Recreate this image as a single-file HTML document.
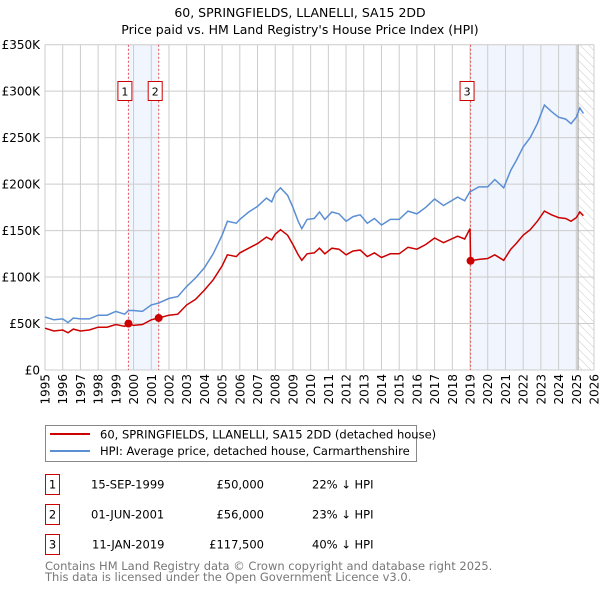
<!DOCTYPE html>
<html><head><meta charset="utf-8"><style>
body{margin:0;background:#fff;width:600px;height:590px;overflow:hidden;font-family:"DejaVu Sans","Liberation Sans",sans-serif}
svg text{font-family:"DejaVu Sans","Liberation Sans",sans-serif}
</style></head><body>
<svg id="c" width="600" height="590" xmlns="http://www.w3.org/2000/svg">
<defs><pattern id="hatch" width="6" height="6" patternUnits="userSpaceOnUse" patternTransform="rotate(-45)"><line x1="0" y1="0" x2="0" y2="6" stroke="#ccc" stroke-width="1"/></pattern></defs>
<text x="300" y="17" text-anchor="middle" font-size="12.5">60, SPRINGFIELDS, LLANELLI, SA15 2DD</text>
<text x="300" y="34" text-anchor="middle" font-size="12.5">Price paid vs. HM Land Registry's House Price Index (HPI)</text>
<g id="plot"></g>
<g>
<rect x="45.5" y="425.5" width="371" height="36" fill="#fff" stroke="#888"/>
<line x1="50" y1="434" x2="90" y2="434" stroke="#cc0000" stroke-width="2"/>
<text x="100" y="438.5" font-size="11.5">60, SPRINGFIELDS, LLANELLI, SA15 2DD (detached house)</text>
<line x1="50" y1="451" x2="90" y2="451" stroke="#5b8fd4" stroke-width="2"/>
<text x="100" y="455" font-size="11.5">HPI: Average price, detached house, Carmarthenshire</text>
</g>
<g id="table" font-size="11.5"></g>
<text x="45" y="570" font-size="11.5" fill="#777">Contains HM Land Registry data © Crown copyright and database right 2025.</text>
<text x="45" y="581" font-size="11.5" fill="#777">This data is licensed under the Open Government Licence v3.0.</text>
</svg>
<script>
const yTicks=[0,50,100,150,200,250,300,350];
const yTickLabels=["£0","£50K","£100K","£150K","£200K","£250K","£300K","£350K"];
const xYears=[1995,1996,1997,1998,1999,2000,2001,2002,2003,2004,2005,2006,2007,2008,2009,2010,2011,2012,2013,2014,2015,2016,2017,2018,2019,2020,2021,2022,2023,2024,2025,2026];
const dates=[1995.0,1995.5,1996.0,1996.3,1996.6,1997.0,1997.5,1998.0,1998.5,1999.0,1999.5,1999.71,2000.0,2000.5,2001.0,2001.42,2002.0,2002.5,2003.0,2003.5,2004.0,2004.5,2005.0,2005.3,2005.8,2006.0,2006.5,2007.0,2007.5,2007.8,2008.0,2008.3,2008.7,2009.0,2009.3,2009.5,2009.8,2010.2,2010.5,2010.8,2011.2,2011.6,2012.0,2012.4,2012.8,2013.2,2013.6,2014.0,2014.5,2015.0,2015.5,2016.0,2016.5,2017.0,2017.5,2018.3,2018.7,2019.0,2019.03,2019.5,2020.0,2020.4,2020.9,2021.3,2021.6,2022.0,2022.4,2022.8,2023.2,2023.6,2024.0,2024.4,2024.7,2025.0,2025.2,2025.4];
const hpi=[57,54,55,51,56,55,55,59,59,63,60,64,64,63,70,72,77,79,90,99,110,125,145,160,158,162,170,176,185,181,190,196,188,175,160,152,162,163,170,162,170,168,160,165,167,158,163,156,162,162,171,168,175,184,177,186,182,192,192,197,197,205,196,215,225,240,250,265,285,278,272,270,265,272,282,276];
const paid=[45,42,43,40,44,42,43,46,46,49,47,50,48,49,54,56,59,60,70,76,86,97,112,124,122,126,131,136,143,140,146,151,145,135,124,118,125,126,131,125,131,130,124,128,129,122,126,121,125,125,132,130,135,142,137,144,141,152,117.5,119,120,124,118,130,136,145,151,160,171,167,164,163,160,164,170,166];
const saleLabels=["1","2","3"];
const saleDates=[1999.71,2001.42,2019.03];
const salePrices=[50,56,117.5];
const saleDateText=["15-SEP-1999","01-JUN-2001","11-JAN-2019"];
const salePriceText=["£50,000","£56,000","£117,500"];
const salePctText=["22% ↓ HPI","23% ↓ HPI","40% ↓ HPI"];
const dataEnd=2025.1;

const NS="http://www.w3.org/2000/svg";
const X0=45,X1=594,Y0=370,Y1=44.7;
const xs=y=>X0+(y-1995)/(2026-1995)*(X1-X0);
const ys=v=>Y0-v/350*(Y0-Y1);
function mk(tag,at,parent){const e=document.createElementNS(NS,tag);for(const k in at)e.setAttribute(k,at[k]);parent.appendChild(e);return e;}
const P=document.getElementById('plot');
let s=mk('rect',{x:xs(saleDates[0]),y:Y1,width:xs(saleDates[1])-xs(saleDates[0]),height:Y0-Y1,fill:'#eef3fc',opacity:0.8},P);

s=mk('rect',{x:xs(saleDates[2]),y:Y1,width:xs(dataEnd)-xs(saleDates[2]),height:Y0-Y1,fill:'#eef3fc',opacity:0.8},P);

s=mk('rect',{x:xs(dataEnd),y:Y1,width:X1-xs(dataEnd),height:Y0-Y1,fill:'url(#hatch)'},P);

yTicks.forEach((t,i)=>{
 const l=mk('line',{x1:X0,x2:X1,y1:ys(t),y2:ys(t),stroke:'#ccc','stroke-width':1},P);
 
 const tx=mk('text',{x:40,y:ys(t)+4.5,'text-anchor':'end','font-size':12},P);tx.textContent=yTickLabels[i];
 
});
xYears.forEach(yr=>{
 const l=mk('line',{x1:xs(yr),x2:xs(yr),y1:Y1,y2:Y0,stroke:'#ccc','stroke-width':1},P);
 
 const tx=mk('text',{x:0,y:0,'text-anchor':'end','font-size':12,transform:`translate(${xs(yr)+4.5},374) rotate(-90)`},P);tx.textContent=yr;
 
});
const endL=mk('line',{x1:xs(dataEnd),x2:xs(dataEnd),y1:Y1,y2:Y0,stroke:'#999','stroke-width':1},P);

saleDates.forEach((d,i)=>{
 const l=mk('line',{x1:xs(d),x2:xs(d),y1:Y1,y2:Y0,stroke:'#e05555','stroke-width':1,'stroke-dasharray':'2,2'},P);
 
});
const pts=a=>a.map((v,i)=>xs(dates[i]).toFixed(1)+','+ys(v).toFixed(1)).join(' ');
let pl=mk('polyline',{points:pts(hpi),fill:'none',stroke:'#5b8fd4','stroke-width':1.5},P);

pl=mk('polyline',{points:pts(paid),fill:'none',stroke:'#cc0000','stroke-width':1.5},P);

saleDates.forEach((d,i)=>{
 const c=mk('circle',{cx:xs(d),cy:ys(salePrices[i]),r:4,fill:'#cc0000'},P);
 
 const g=mk('g',{},P);
 
 mk('rect',{x:xs(d)-10.5,y:81.5,width:14,height:19,fill:'#fff',stroke:'#cc0000'},g);
 const t=mk('text',{x:xs(d)-3.5,y:95.5,'text-anchor':'middle','font-size':11},g);t.textContent=saleLabels[i];
});
const T=document.getElementById('table');
saleLabels.forEach((lab,i)=>{
 const cy=483+i*30;
 const g=mk('g',{},T);
 
 mk('rect',{x:45.5,y:cy-8.5,width:14,height:20,fill:'#fff',stroke:'#cc0000'},g);
 let t=mk('text',{x:52.5,y:cy+5.5,'text-anchor':'middle'},g);t.textContent=lab;
 t=mk('text',{x:i==2?92:91,y:cy+5.5},g);t.textContent=saleDateText[i];
 t=mk('text',{x:264,y:cy+5.5,'text-anchor':'end'},g);t.textContent=salePriceText[i];
 t=mk('text',{x:312,y:cy+5.5},g);t.textContent=salePctText[i];
});
</script>
</body></html>
